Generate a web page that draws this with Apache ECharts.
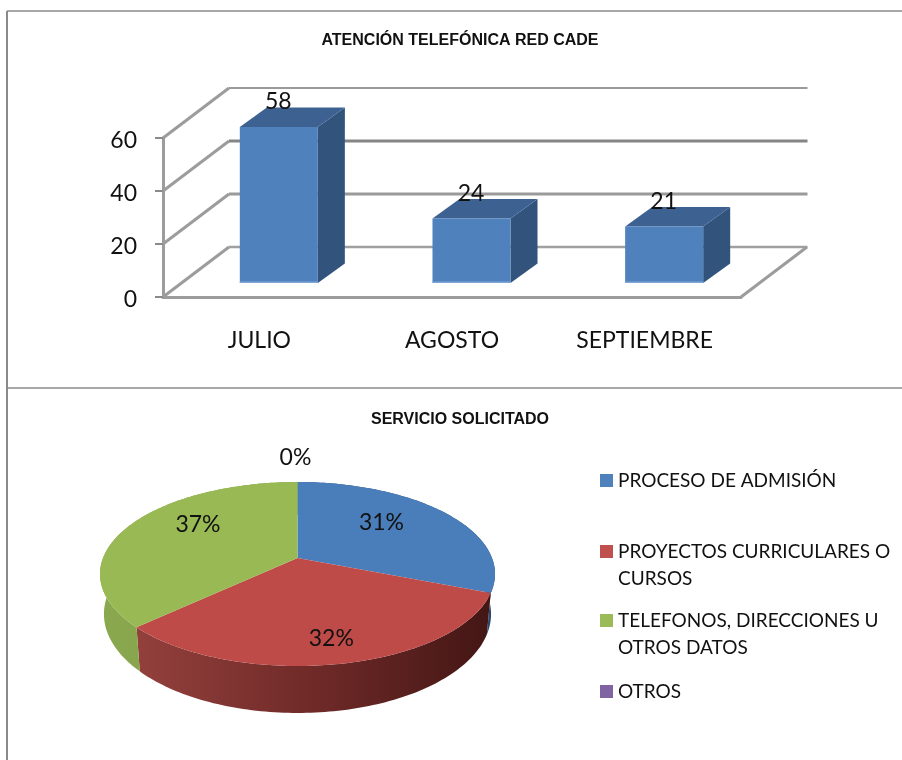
<!DOCTYPE html>
<html><head><meta charset="utf-8">
<style>html,body{margin:0;padding:0;background:#fff}#c{width:902px;height:760px}</style>
<script src="https://cdn.jsdelivr.net/npm/echarts@6/dist/echarts.min.js"></script>
</head><body><div id="c"></div>
<script>
const barTitle = 'ATENCIÓN TELEFÓNICA RED CADE';
const pieTitle = 'SERVICIO SOLICITADO';
const categories = ['JULIO', 'AGOSTO', 'SEPTIEMBRE'];
const barValues = [58, 24, 21];
const yTicks = [0, 20, 40, 60];
const pieNames = ['PROCESO DE ADMISIÓN', 'PROYECTOS CURRICULARES O\nCURSOS', 'TELEFONOS, DIRECCIONES U\nOTROS DATOS', 'OTROS'];
const pieValues = [31, 32, 37, 0];

const FONT = 'Lato';
const FS = 23;
const FS_LEGEND = 19;
const GRAY = '#9c9c9c';
const pieColors = ['#4a7ebb', '#be4b48', '#98b954', '#8064a2'];
const legendColors = ['#4f81bd', '#c0504d', '#9bbb59', '#8064a2'];
const sideStops = [
  ['#2f4f78', '#2c4a70'],
  ['#93403c', '#6f2a28', '#431614'],
  ['#8aa84e', '#7f9c48'],
  ['#5f4a7a', '#5f4a7a']
];
// perspective model of the pie disc
const P = {cx: 297.5, cy: 558, a: 194.5, b: 89.2, k: 0.174, depth: 38.8, shrink: 0.98};
function project(theta, rho) {
  const x = Math.sin(theta) * rho, z = -Math.cos(theta) * rho, w = 1 - P.k * z;
  return {x: P.cx + P.a * x / w, y: P.cy + P.b * z / w, d: P.depth / w};
}
const total = pieValues.reduce((s, v) => s + v, 0);
const labelPlace = [{rho: .55, dy: -9}, {rho: .8, dy: -1}, {rho: .58, dy: -14}, {rho: 1, dy: -24}];

function pieRender(idx) {
  return function () {
    const before = pieValues.slice(0, idx).reduce((s, v) => s + v, 0);
    const t0 = before / total * 2 * Math.PI, t1 = (before + pieValues[idx]) / total * 2 * Math.PI;
    const rim = [];
    const n = Math.max(2, Math.ceil((t1 - t0) / 0.02));
    for (let i = 0; i <= n; i++) rim.push(project(t0 + (t1 - t0) * i / n, 1));
    const top = [[P.cx, P.cy]].concat(rim.map(p => [p.x, p.y]));
    const side = rim.map(p => [p.x, p.y]).concat(rim.slice().reverse().map(p => [P.cx + (p.x - P.cx) * P.shrink, p.y + p.d]));
    const stops = sideStops[idx].map((c, i, arr) => ({offset: i / (arr.length - 1), color: c}));
    const mid = (t0 + t1) / 2 || 2 * Math.PI;
    const lp = project(mid, labelPlace[idx].rho);
    const children = [];
    if (pieValues[idx] > 0) {
      children.push({type: 'polygon', z2: 1, shape: {points: side},
        style: {fill: new echarts.graphic.LinearGradient(0, 0, 1, 0, stops)}});
      children.push({type: 'polygon', z2: 2, shape: {points: top}, style: {fill: pieColors[idx]}});
    }
    children.push({type: 'text', z2: 5, style: {
      x: lp.x + (idx === 3 ? -2 : 0), y: lp.y + labelPlace[idx].dy,
      text: Math.round(pieValues[idx] / total * 100) + '%',
      align: 'center', verticalAlign: 'middle', font: FS + 'px ' + FONT, fill: '#111'}});
    return {type: 'group', children};
  };
}

const backLineStyle = {
  0: {stroke: '#a0a0a0', lineWidth: 2.5},
  20: {stroke: '#9a9a9a', lineWidth: 3},
  40: {stroke: '#858585', lineWidth: 3},
  60: {stroke: '#9a9a9a', lineWidth: 2}
};
function wallRender(params, api) {
  const v = api.value(1);
  const p = api.coord([0, v]);
  const band = api.size([1, 0])[0];
  const x0 = p[0] - band / 2, x1 = x0 + band * 3, dx = 66, dy = -50;
  const line = {stroke: GRAY, lineWidth: 3};
  const children = [
    {type: 'line', shape: {x1: x0, y1: p[1], x2: x0 + dx, y2: p[1] + dy}, style: line},
    {type: 'line', shape: {x1: x0 + dx, y1: p[1] + dy, x2: x1 + dx + 0.5, y2: p[1] + dy}, style: backLineStyle[v]}
  ];
  if (v === 0) children.push({type: 'line', shape: {x1, y1: p[1], x2: x1 + dx, y2: p[1] + dy}, style: line});
  return {type: 'group', children};
}

function barRender(params, api) {
  const c = api.coord([api.value(0), api.value(1)]);
  const z = api.coord([api.value(0), 0]);
  const band = api.size([1, 0])[0];
  const w = band * 0.405, ox = 19.5, oy = -14, dx = 27, dy = -19.5;
  const h = (z[1] - c[1]) * 1.015;
  const L = c[0] - w / 2 + ox, R = L + w, B = z[1] + oy, T = B - h;
  return {type: 'group', children: [
    {type: 'polygon', shape: {points: [[R, T], [R + dx, T + dy], [R + dx, B + dy], [R, B]]}, style: {fill: '#32547c'}},
    {type: 'polygon', shape: {points: [[L, T], [L + dx, T + dy], [R + dx, T + dy], [R, T]]}, style: {fill: '#3d6292'}},
    {type: 'rect', shape: {x: L, y: T, width: w, height: h}, style: {fill: '#4f81bd'}},
    {type: 'rect', shape: {x: L, y: B - 1.5, width: w, height: 1.5}, style: {fill: '#7fa5d6'}},
    {type: 'text', z2: 5, style: {x: (L + R) / 2 - 0.5, y: T - 25, text: String(api.value(1)),
      align: 'center', verticalAlign: 'middle', font: FS + 'px ' + FONT, fill: '#111'}}
  ]};
}

const legendTops = [467, 511, 580, 678];
const titleStyle = {fontFamily: 'Liberation Sans', fontWeight: 'bold', fontSize: 16, color: '#111'};
const chart = echarts.init(document.getElementById('c'), null, {renderer: 'canvas'});
chart.setOption({
  animation: false,
  backgroundColor: '#fff',
  title: [
    {text: barTitle, left: 460, top: 33, textAlign: 'center', padding: 0, textStyle: titleStyle},
    {text: pieTitle, left: 460, top: 412, textAlign: 'center', padding: 0, textStyle: titleStyle}
  ],
  graphic: [
    {type: 'line', silent: true, shape: {x1: 7, y1: 11, x2: 902, y2: 11}, style: {stroke: '#8a8a8a', lineWidth: 1.5}},
    {type: 'line', silent: true, shape: {x1: 7, y1: 11, x2: 7, y2: 760}, style: {stroke: '#8a8a8a', lineWidth: 2}},
    {type: 'line', silent: true, shape: {x1: 7, y1: 388, x2: 902, y2: 388}, style: {stroke: '#8a8a8a', lineWidth: 1.5}}
  ],
  grid: {left: 163, right: 161, top: 138, bottom: 463},
  xAxis: {type: 'category', data: categories,
    axisLine: {lineStyle: {color: GRAY, width: 3}},
    axisTick: {length: 8, lineStyle: {color: '#8a8a8a', width: 2}},
    axisLabel: {margin: 32, fontFamily: FONT, fontSize: FS, color: '#111', interval: 0}},
  yAxis: {type: 'value', min: yTicks[0], max: yTicks[yTicks.length - 1], interval: 20,
    splitLine: {show: false},
    axisLine: {show: true, lineStyle: {color: GRAY, width: 3}},
    axisTick: {show: true, length: 8, lineStyle: {color: '#8a8a8a', width: 2}},
    axisLabel: {margin: 26, verticalAlign: 'top', lineHeight: 5, fontFamily: FONT, fontSize: FS, color: '#111'}},
  legend: pieNames.map((name, i) => {
    const display = name.includes('\n') ? '\n' + name : name;
    return {
      left: 600, top: legendTops[i], padding: 0, orient: 'vertical', selectedMode: false,
      data: [{name, icon: 'rect', itemStyle: {color: legendColors[i]}}],
      itemWidth: 13, itemHeight: 13,
      formatter: () => display,
      textStyle: {fontFamily: FONT, fontSize: FS_LEGEND, color: '#111', lineHeight: 27}
    };
  }),
  series: [
    {type: 'custom', name: 'walls', coordinateSystem: 'cartesian2d', silent: true, z: 1,
      data: yTicks.map(v => [0, v]), encode: {x: 0, y: 1}, renderItem: wallRender},
    {type: 'custom', name: 'atencion', coordinateSystem: 'cartesian2d', z: 3,
      data: barValues.map((v, i) => [i, v]), encode: {x: 0, y: 1}, renderItem: barRender}
  ].concat(pieNames.map((name, i) => ({
    type: 'custom', name, coordinateSystem: 'none', z: 4,
    itemStyle: {color: legendColors[i]},
    data: [[pieValues[i]]], renderItem: pieRender(i)
  })))
});
</script></body></html>
